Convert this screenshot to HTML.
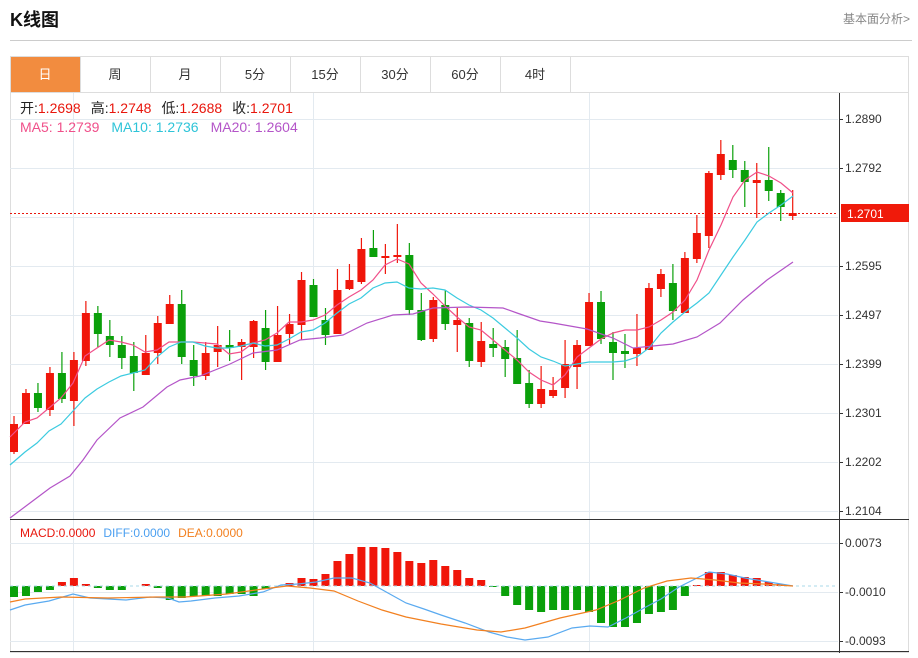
<!DOCTYPE html>
<html><head><meta charset="utf-8"><style>
body{margin:0;background:#fff;width:918px;height:653px;overflow:hidden;font-family:"Liberation Sans","Noto Sans CJK SC",sans-serif;}
</style></head><body>
<svg id="s" width="918" height="653" xmlns="http://www.w3.org/2000/svg" font-family="Liberation Sans, Noto Sans CJK SC, sans-serif">
<text x="10" y="26" font-size="18" font-weight="bold" fill="#111">K线图</text>
<text x="910" y="23" font-size="12" fill="#888" text-anchor="end">基本面分析&gt;</text>
<line x1="10" y1="40.5" x2="912" y2="40.5" stroke="#ccc"/>
<rect x="10.5" y="56.5" width="898" height="596" fill="none" stroke="#ddd"/>
<line x1="10" y1="92.5" x2="909" y2="92.5" stroke="#ddd"/>
<rect x="11" y="57" width="69" height="35" fill="#f28c3f"/>
<g font-size="13" fill="#333" text-anchor="middle">
<text x="45" y="79" fill="#fff">日</text><text x="115" y="79">周</text><text x="185" y="79">月</text><text x="255" y="79">5分</text><text x="325" y="79">15分</text><text x="395" y="79">30分</text><text x="465" y="79">60分</text><text x="535" y="79">4时</text>
</g>
<g stroke="#ddd"><line x1="80.5" y1="57" x2="80.5" y2="92"/><line x1="150.5" y1="57" x2="150.5" y2="92"/><line x1="220.5" y1="57" x2="220.5" y2="92"/><line x1="290.5" y1="57" x2="290.5" y2="92"/><line x1="360.5" y1="57" x2="360.5" y2="92"/><line x1="430.5" y1="57" x2="430.5" y2="92"/><line x1="500.5" y1="57" x2="500.5" y2="92"/><line x1="570.5" y1="57" x2="570.5" y2="92"/></g>
<g id="grid" stroke="#e3eaf0"></g>
<line x1="10" y1="213.5" x2="838" y2="213.5" stroke="#e8160c" stroke-dasharray="2,2"/>
<g id="c"></g>
<line x1="839.5" y1="93" x2="839.5" y2="653" stroke="#333"/>
<line x1="10" y1="519.5" x2="909" y2="519.5" stroke="#333"/>
<line x1="10" y1="651.5" x2="909" y2="651.5" stroke="#333"/>
<g id="ax" font-size="12" fill="#333"></g>
<rect x="841" y="204" width="68" height="18" fill="#f01a0a"/>
<text x="847" y="218" font-size="12" fill="#fff">1.2701</text>
<g font-size="14">
<text x="20" y="113"><tspan fill="#222">开:</tspan><tspan fill="#e8160c">1.2698</tspan><tspan fill="#222" dx="10">高:</tspan><tspan fill="#e8160c">1.2748</tspan><tspan fill="#222" dx="10">低:</tspan><tspan fill="#e8160c">1.2688</tspan><tspan fill="#222" dx="10">收:</tspan><tspan fill="#e8160c">1.2701</tspan></text>
<text x="20" y="132"><tspan fill="#f0508a">MA5: 1.2739</tspan><tspan fill="#2ec4d8" dx="12">MA10: 1.2736</tspan><tspan fill="#b455c8" dx="12">MA20: 1.2604</tspan></text>
</g>
<text x="20" y="537" font-size="12"><tspan fill="#e8160c">MACD:0.0000</tspan><tspan fill="#4a9ff0" dx="8">DIFF:0.0000</tspan><tspan fill="#f28020" dx="8">DEA:0.0000</tspan></text>
</svg>
<script>
var NS="http://www.w3.org/2000/svg";
function el(p,t,a){var e=document.createElementNS(NS,t);for(var k in a)e.setAttribute(k,a[k]);p.appendChild(e);return e;}
var g=document.getElementById('grid'),c=document.getElementById('c'),ax=document.getElementById('ax');
var hy=[119,168,217,266,315,364,413,462,511];
hy.forEach(function(y){el(g,'line',{x1:10,x2:838,y1:y+.5,y2:y+.5});});
[543,592,641].forEach(function(y){el(g,'line',{x1:10,x2:838,y1:y+.5,y2:y+.5});});
[73,313,589].forEach(function(x){el(g,'line',{x1:x+.5,x2:x+.5,y1:93,y2:651});});
var labs=[[119,'1.2890'],[168,'1.2792'],[266,'1.2595'],[315,'1.2497'],[364,'1.2399'],[413,'1.2301'],[462,'1.2202'],[511,'1.2104'],[543,'0.0073'],[592,'-0.0010'],[641,'-0.0093']];
labs.forEach(function(l){el(ax,'line',{x1:839,x2:843,y1:l[0]+.5,y2:l[0]+.5,stroke:'#333'});var t=el(ax,'text',{x:845,y:l[0]+4});t.textContent=l[1];});
var K=[['r',424,452,416,454],['r',393,424,389,424],['g',393,408,383,412],['r',373,410,367,416],['g',373,399,352,403],['r',360,401,352,426],['r',313,361,301,366],['g',313,334,306,347],['g',336,345,320,357],['g',345,358,336,369],['g',356,373,342,391],['r',353,375,335,375],['r',323,353,316,364],['r',304,324,295,324],['g',304,357,290,364],['g',360,376,345,386],['r',353,376,342,380],['r',345,352,326,367],['g',345,348,330,361],['r',342,347,339,380],['r',321,347,320,358],['g',328,362,310,370],['r',335,362,306,362],['r',324,334,314,344],['r',280,325,272,340],['g',285,317,279,317],['g',320,335,308,345],['r',290,334,269,334],['r',280,289,264,290],['r',249,282,238,284],['g',248,257,230,257],['r',256,258,244,274],['r',255,257,224,263],['g',255,310,243,315],['g',310,340,293,341],['r',300,339,297,342],['g',305,324,290,330],['r',320,325,308,352],['g',323,361,318,367],['r',341,362,322,367],['g',344,348,328,357],['g',347,359,340,377],['g',358,384,330,384],['g',383,404,370,408],['r',389,404,366,408],['r',390,396,377,398],['r',364,388,340,398],['r',345,367,340,389],['r',302,346,293,346],['g',302,339,291,344],['g',342,353,332,380],['g',351,354,334,368],['r',348,354,314,366],['r',288,350,283,350],['r',274,289,269,297],['g',283,311,264,320],['r',258,313,252,313],['r',233,259,215,263],['r',173,236,171,248],['r',154,175,140,180],['g',160,170,145,178],['g',170,182,161,207],['r',180,183,163,218],['g',180,191,147,201],['g',193,207,190,221],['r',213,216,190,220]];
function X(i){return 14+i*11.98;}
var R='#f0160a',G='#0aa00a';
var M=[597,596,592,590,582,578,584,588,590,590,586,584,588,600,598,596,596,596,594,594,596,589,586,583,578,579,574,561,554,547,547,548,552,561,563,560,566,570,578,580,587,596,605,610,612,610,610,610,612,623,627,627,623,614,612,610,596,585,572,572,575,577,578,582,584,586];
M.forEach(function(v,i){var x=X(i)-4,z=586;if(Math.abs(v-z)<1)return;el(c,'rect',{x:x,y:Math.min(v,z),width:8,height:Math.abs(v-z),fill:v<z?R:G});});
el(c,'line',{x1:10,x2:838,y1:586,y2:586,stroke:'#a8d8e8','stroke-dasharray':'3,3'});
K.forEach(function(k,i){var x=X(i),col=k[0]=='r'?R:G;el(c,'line',{x1:x,x2:x,y1:k[3],y2:k[4],stroke:col,'stroke-width':1.2});el(c,'rect',{x:x-4,y:k[1],width:8,height:Math.max(2,k[2]-k[1]),fill:col});});
function pl(pts,col){el(c,'polyline',{points:pts.map(function(p){return p.join(',')}).join(' '),fill:'none',stroke:col,'stroke-width':1.2});}
pl([[10,437],[25,422],[37,418],[49,408],[61,398],[73,383],[85,356],[97,348],[109,340],[121,342],[133,345],[145,352],[157,350],[169,342],[181,342],[193,342],[205,343],[217,344],[229,354],[241,352],[253,343],[265,340],[277,333],[289,322],[301,322],[313,320],[325,315],[337,305],[349,297],[361,290],[373,280],[385,265],[397,259],[409,264],[421,283],[433,294],[445,306],[457,317],[469,327],[481,330],[493,340],[505,350],[517,360],[529,372],[541,380],[553,385],[565,375],[577,357],[589,348],[601,339],[613,333],[625,330],[637,330],[649,327],[661,320],[673,312],[685,300],[697,280],[709,250],[721,225],[733,197],[745,180],[757,172],[769,176],[781,183],[793,193]],'#f0508a');
pl([[10,465],[25,452],[37,443],[49,431],[61,424],[73,411],[85,398],[97,389],[109,382],[121,376],[133,373],[145,370],[157,357],[169,347],[181,342],[193,342],[205,346],[217,348],[229,348],[241,346],[253,343],[265,346],[277,345],[289,339],[301,332],[313,330],[325,323],[337,313],[349,304],[361,298],[373,288],[385,283],[397,282],[409,288],[421,289],[433,288],[445,290],[457,298],[469,305],[481,310],[493,318],[505,328],[517,338],[529,349],[541,357],[553,361],[565,366],[577,364],[589,362],[601,362],[613,362],[625,361],[637,357],[649,348],[661,333],[673,322],[685,312],[697,303],[709,293],[721,275],[733,257],[745,240],[757,222],[769,213],[781,205],[793,196]],'#3ccbe0');
pl([[10,518],[30,503],[50,488],[70,476],[83,460],[97,440],[120,418],[143,407],[167,387],[180,380],[200,376],[230,364],[253,353],[277,350],[300,340],[320,338],[343,335],[367,323],[393,315],[413,314],[433,308],[467,307],[503,308],[517,313],[540,321],[553,323],[587,329],[613,338],[633,348],[653,346],[673,344],[697,337],[720,323],[743,300],[767,280],[793,262]],'#b455c8');
pl([[10,610],[25,605],[49,601],[73,594],[90,598],[108,599],[126,600],[150,597],[168,598],[179,602],[191,601],[215,598],[239,596],[263,592],[281,585],[298,584],[316,582],[334,578],[352,578],[370,583],[388,593],[406,603],[424,609],[441,615],[465,623],[489,632],[507,637],[525,640],[548,637],[572,628],[590,626],[608,627],[626,618],[644,608],[661,599],[679,587],[697,578],[709,572],[727,574],[745,578],[763,581],[781,584],[793,586]],'#5aaaf0');
pl([[10,602],[25,599],[61,597],[108,598],[156,597],[185,597],[227,594],[263,589],[287,586],[310,588],[334,591],[358,601],[382,610],[406,617],[441,624],[477,630],[501,632],[525,628],[560,618],[596,610],[620,600],[644,588],[667,581],[691,578],[715,580],[739,583],[763,584],[793,586]],'#f28020');
</script>
</body></html>
